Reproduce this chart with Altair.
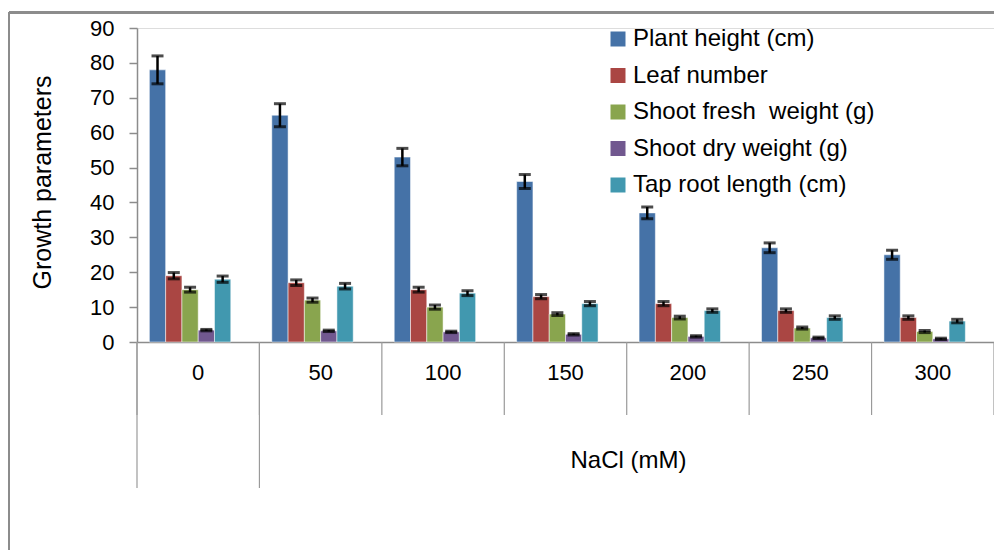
import altair as alt
import pandas as pd

cats = ["0", "50", "100", "150", "200", "250", "300"]
series = ["Plant height (cm)", "Leaf number", "Shoot fresh\u00a0 weight (g)",
          "Shoot dry weight (g)", "Tap root length (cm)"]
colors = ["#4572A7", "#AA4643", "#89A54E", "#71588F", "#4198AF"]

plant = [78, 65, 53, 46, 37, 27, 25]
plant_err = [4.0, 3.3, 2.5, 2.0, 1.7, 1.4, 1.3]
leaf = [19, 17, 15, 13, 11, 9, 7]
leaf_err = [0.9, 0.8, 0.7, 0.6, 0.6, 0.5, 0.5]
fresh = [15, 12, 10, 8, 7, 4, 3]
fresh_err = [0.7, 0.6, 0.6, 0.4, 0.4, 0.3, 0.3]
dry = [3.4, 3.2, 2.9, 2.2, 1.6, 1.2, 0.9]
dry_err = [0.2, 0.2, 0.2, 0.2, 0.2, 0.2, 0.2]
tap = [18, 16, 14, 11, 9, 7, 6]
tap_err = [0.9, 0.8, 0.7, 0.6, 0.5, 0.5, 0.5]

vals = [plant, leaf, fresh, dry, tap]
errs = [plant_err, leaf_err, fresh_err, dry_err, tap_err]

rows = []
for s, v, e in zip(series, vals, errs):
    for c, vv, ee in zip(cats, v, e):
        rows.append({"cat": c, "series": s, "value": vv, "lo": vv - ee, "hi": vv + ee})
df = pd.DataFrame(rows)
df_cats = pd.DataFrame({"cat": cats})

FONT = "Liberation Sans"
GRAY = "#8c8c8c"

xscale = alt.Scale(domain=cats, paddingInner=0, paddingOuter=0)
yscale = alt.Scale(domain=[0, 90], nice=False)
off_scale = alt.Scale(domain=series + ["~"], paddingInner=0, paddingOuter=0.76)

xaxis = alt.Axis(title="NaCl (mM)", labelAngle=0, ticks=False,
                 labelPadding=20, labelFontSize=22, labelFont=FONT,
                 labelColor="black", domainColor=GRAY, domainWidth=1.5,
                 titleFont=FONT, titleFontSize=24, titleFontWeight="normal",
                 titleColor="black", titleX=491, titleY=118,
                 titleBaseline="middle", titleAlign="center")
yaxis = alt.Axis(title="Growth parameters", values=list(range(0, 100, 10)),
                 labelOverlap=False,
                 grid=False, tickSize=8, tickColor=GRAY, tickWidth=1.5,
                 domainColor=GRAY, domainWidth=1.5,
                 labelPadding=15, labelFontSize=22, labelFont=FONT,
                 labelColor="black",
                 titleFont=FONT, titleFontSize=25, titleFontWeight="normal",
                 titleColor="black", titleX=-95, titleY=154,
                 titleBaseline="middle", titleAlign="center", titleAngle=-90)

xc = alt.X("cat:N", scale=xscale, sort=cats, axis=xaxis, title="NaCl (mM)")
xo = alt.XOffset("series:N", scale=off_scale, sort=series)

base = alt.Chart(df)

bars = base.mark_bar(stroke="white", strokeOpacity=0.5, strokeWidth=1).encode(
    x=xc, xOffset=xo,
    y=alt.Y("value:Q", scale=yscale, axis=yaxis, title="Growth parameters"),
    color=alt.Color("series:N", scale=alt.Scale(domain=series, range=colors),
                    legend=alt.Legend(title=None, orient="none", legendX=469, legendY=-1,
                                      symbolType="square", symbolSize=225,
                                      symbolStrokeWidth=0, labelFontSize=24,
                                      labelFont=FONT, labelColor="black",
                                      rowPadding=12.5, labelOffset=3, labelLimit=400)),
)

err_rule = base.mark_rule(color="black", strokeWidth=2.5).encode(
    x=xc, xOffset=xo,
    y=alt.Y("lo:Q", scale=yscale, axis=yaxis, title="Growth parameters"), y2="hi:Q",
)
cap_hi = base.mark_tick(color="black", thickness=3, size=12).encode(
    x=xc, xOffset=xo, y=alt.Y("hi:Q", scale=yscale, axis=yaxis, title="Growth parameters"),
)
cap_lo = base.mark_tick(color="black", thickness=3, size=12).encode(
    x=xc, xOffset=xo, y=alt.Y("lo:Q", scale=yscale, axis=yaxis, title="Growth parameters"),
)

SEPC = "#9a9a9a"
sep = alt.Chart(df_cats).mark_rule(color=SEPC, strokeWidth=1.2).encode(
    x=alt.X("cat:N", scale=xscale, sort=cats, bandPosition=0, axis=xaxis, title="NaCl (mM)"),
    y=alt.value(314), y2=alt.value(387),
)
sep_end = alt.Chart(df_cats[df_cats.cat == "300"]).mark_rule(color=SEPC, strokeWidth=1.2).encode(
    x=alt.X("cat:N", scale=xscale, sort=cats, bandPosition=1, axis=xaxis, title="NaCl (mM)"),
    y=alt.value(314), y2=alt.value(387),
)
sep_long = alt.Chart(df_cats[df_cats.cat.isin(["0", "50"])]).mark_rule(color=SEPC, strokeWidth=1.2).encode(
    x=alt.X("cat:N", scale=xscale, sort=cats, bandPosition=0, axis=xaxis, title="NaCl (mM)"),
    y=alt.value(314), y2=alt.value(460),
)

border_left = alt.Chart(df_cats).mark_rule(color=GRAY, strokeWidth=2).encode(
    x=alt.value(-128), y=alt.value(-16), y2=alt.value(600),
)
border_top = alt.Chart(df_cats).mark_rule(color=GRAY, strokeWidth=2).encode(
    x=alt.value(-128), x2=alt.value(900), y=alt.value(-15.5),
)

chart = alt.layer(
    border_left, border_top, bars, err_rule, cap_hi, cap_lo, sep, sep_end, sep_long
).properties(
    width=857, height=314,
    autosize=alt.AutoSizeParams(type="none"),
    padding={"left": 129, "top": 20, "right": 0, "bottom": 208},
).configure_view(strokeOpacity=0).configure(background="white")

chart.save("out.html", embed_options={"renderer": "svg", "actions": False})
